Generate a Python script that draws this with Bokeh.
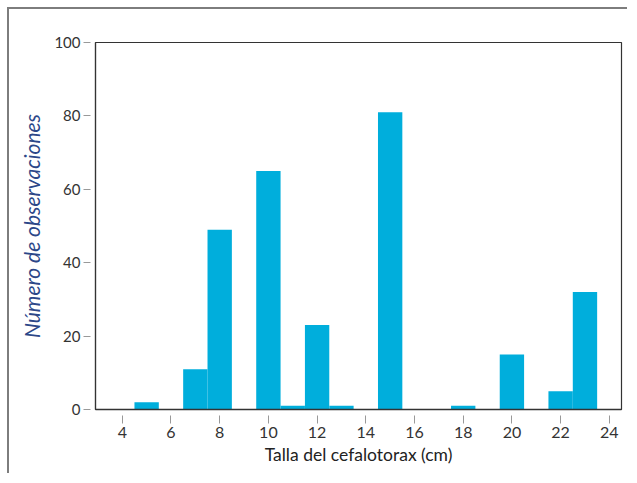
from bokeh.plotting import figure
from bokeh.models import Range1d, FixedTicker
from bokeh.embed import file_html
from bokeh.resources import INLINE

# Data
talla = [5, 7, 8, 10, 11, 12, 13, 15, 18, 20, 22, 23]
observaciones = [2, 11, 49, 65, 1, 23, 1, 81, 1, 15, 5, 32]
x_ticks = [4, 6, 8, 10, 12, 14, 16, 18, 20, 22, 24]
y_ticks = [0, 20, 40, 60, 80, 100]

p = figure(
    width=620, height=466,
    x_range=Range1d(2.9, 24.5), y_range=Range1d(0, 100),
    output_backend="svg", toolbar_location=None,
    min_border_left=86, min_border_top=33, min_border_right=8, min_border_bottom=66,
    background_fill_color="white", border_fill_color="white",
)
p.styles = {
    "margin-left": "7px", "margin-top": "7px",
    "border-left": "2px solid #7d7d7d", "border-top": "2px solid #7d7d7d",
}

p.vbar(x=talla, top=observaciones, width=1, bottom=0,
       fill_color="#00AEDC", line_color=None)

p.xgrid.visible = False
p.ygrid.visible = False
p.outline_line_color = "#333333"
p.outline_line_width = 1.2

font = "Lato"

xa = p.xaxis[0]
xa.ticker = FixedTicker(ticks=x_ticks)
xa.axis_line_color = "#333333"
xa.axis_line_width = 1.5
xa.major_tick_in = -6
xa.major_tick_out = 14
xa.major_tick_line_color = "#999999"
xa.minor_tick_line_color = None
xa.major_label_standoff = 3
xa.major_label_text_font = font
xa.major_label_text_font_size = "16px"
xa.major_label_text_color = "#333333"
xa.axis_label = "Talla del cefalotorax (cm)"
xa.axis_label_text_font = font
xa.axis_label_text_font_style = "normal"
xa.axis_label_text_font_size = "17.5px"
xa.axis_label_text_color = "#222222"
xa.axis_label_standoff = 3

ya = p.yaxis[0]
ya.ticker = FixedTicker(ticks=y_ticks)
ya.axis_line_color = "#333333"
ya.axis_line_width = 1.2
ya.major_tick_in = -5
ya.major_tick_out = 12
ya.major_tick_line_color = "#999999"
ya.minor_tick_line_color = None
ya.major_label_standoff = 3
ya.major_label_text_font = font
ya.major_label_text_font_size = "15px"
ya.major_label_text_color = "#333333"
ya.axis_label = "Número de observaciones"
ya.axis_label_text_font = font
ya.axis_label_text_font_style = "italic"
ya.axis_label_text_font_size = "21px"
ya.axis_label_text_color = "#2c4788"
ya.axis_label_standoff = 7

open("out.html", "w").write(file_html(p, INLINE))
